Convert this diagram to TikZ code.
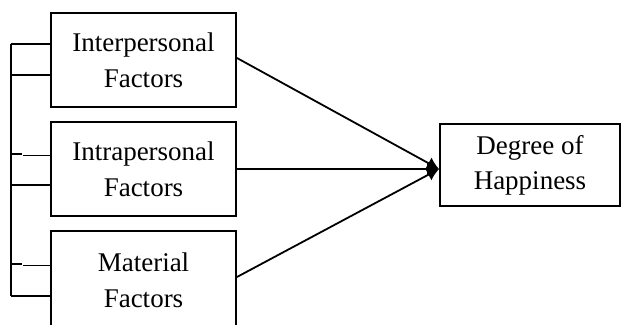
\documentclass[tikz,border=0pt]{standalone}
\usepackage{fontspec}
\setmainfont{Liberation Serif}
\usetikzlibrary{arrows.meta,calc}
\tikzset{
  factorbox/.style={draw,line width=1.9pt,minimum width=185pt,minimum height=94pt,inner sep=0pt,
    align=center,font=\fontsize{27}{36}\selectfont},
  outbox/.style={draw,line width=1.9pt,minimum width=180pt,minimum height=82pt,inner sep=0pt,
    align=center,font=\fontsize{27}{35}\selectfont},
  link/.style={line width=1.8pt,-{Latex[length=12pt,width=13pt]}},
  bracket/.style={line width=1.8pt}
}
\begin{document}
\begin{tikzpicture}[x=1pt,y=-1pt]
\useasboundingbox (0,0) rectangle (621,324);
\clip (0,0) rectangle (621,324);
\node[factorbox] (b1) at (143.5,60) {Interpersonal\\Factors};
\node[factorbox] (b2) at (143.5,169) {Intrapersonal\\Factors};
\node[factorbox,minimum height=98pt] (b3) at (143.5,280) {Material\\Factors};
\node[outbox] (h) at (530,165) {Degree of\\Happiness};
\coordinate (tip) at ([yshift=-4pt]h.west);
\draw[link] ([yshift=2pt]b1.east) -- (tip);
\draw[link] (b2.east) -- (tip);
\draw[link] ([yshift=3pt]b3.east) -- (tip);
% left bracket
\coordinate (s1) at (11,44);
\coordinate (s6) at (11,296);
\draw[bracket] (s1) -- (s6);
\draw[bracket] (s1) -- (s1 -| b1.west);
\draw[bracket] (11,75) -- (b1.west |- 0,75);
\draw[bracket] (11,154) -- (22,154);
\draw[bracket] (23,155.5) -- (b2.west |- 0,155.5);
\draw[bracket] (11,185) -- (b2.west |- 0,185);
\draw[bracket] (11,264) -- (22,264);
\draw[bracket] (23,265.5) -- (b3.west |- 0,265.5);
\draw[bracket] (s6) -- (s6 -| b3.west);
\end{tikzpicture}
\end{document}
